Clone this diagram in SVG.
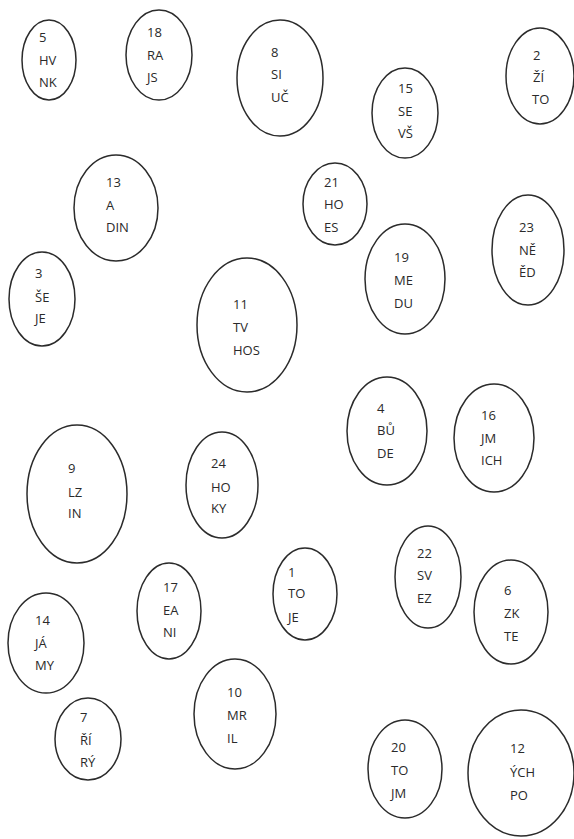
<svg xmlns="http://www.w3.org/2000/svg" width="574" height="839" viewBox="0 0 574 839">
<style>
ellipse{fill:#fff;stroke:#2b2b2b;stroke-width:1.5}
text{font-family:"Open Sans","Liberation Sans",sans-serif;font-size:13px;fill:#2a2a2a}
</style>
<rect width="574" height="839" fill="#fff"/>
<g id="connectors"></g>
<g id="n5"><ellipse cx="49" cy="60" rx="27" ry="40"/><text x="39" y="42">5</text><text x="39" y="65">HV</text><text x="39" y="87">NK</text></g>
<g id="n18"><ellipse cx="159" cy="55" rx="33" ry="45"/><text x="147" y="37">18</text><text x="147" y="60">RA</text><text x="147" y="82">JS</text></g>
<g id="n8"><ellipse cx="280" cy="78" rx="43" ry="58"/><text x="271" y="57">8</text><text x="271" y="79">SI</text><text x="271" y="102">UČ</text></g>
<g id="n15"><ellipse cx="405" cy="113" rx="33" ry="45"/><text x="398" y="93">15</text><text x="398" y="116">SE</text><text x="398" y="138">VŠ</text></g>
<g id="n2"><ellipse cx="540" cy="76" rx="34" ry="48"/><text x="533" y="60">2</text><text x="533" y="82">ŽÍ</text><text x="532" y="104">TO</text></g>
<g id="n13"><ellipse cx="116" cy="208" rx="42" ry="53"/><text x="106" y="187">13</text><text x="106" y="210">A</text><text x="106" y="232">DIN</text></g>
<g id="n21"><ellipse cx="335" cy="204" rx="32" ry="41"/><text x="324" y="187">21</text><text x="324" y="209">HO</text><text x="324" y="232">ES</text></g>
<g id="n23"><ellipse cx="528" cy="250" rx="36" ry="55"/><text x="519" y="232">23</text><text x="519" y="255">NĚ</text><text x="519" y="277">ĚD</text></g>
<g id="n3"><ellipse cx="42" cy="299" rx="33" ry="47"/><text x="35" y="278">3</text><text x="35" y="302">ŠE</text><text x="35" y="323">JE</text></g>
<g id="n19"><ellipse cx="405" cy="279" rx="40" ry="55"/><text x="394" y="262">19</text><text x="394" y="285">ME</text><text x="394" y="308">DU</text></g>
<g id="n11"><ellipse cx="247" cy="325" rx="50" ry="67"/><text x="233" y="309">11</text><text x="233" y="332">TV</text><text x="233" y="355">HOS</text></g>
<g id="n4"><ellipse cx="387" cy="431" rx="40" ry="54"/><text x="377" y="413">4</text><text x="377" y="435">BŮ</text><text x="377" y="458">DE</text></g>
<g id="n16"><ellipse cx="494" cy="438" rx="40" ry="54"/><text x="481" y="420">16</text><text x="481" y="443">JM</text><text x="481" y="465">ICH</text></g>
<g id="n9"><ellipse cx="77" cy="494" rx="50" ry="69"/><text x="68" y="473">9</text><text x="68" y="497">LZ</text><text x="68" y="518">IN</text></g>
<g id="n24"><ellipse cx="222" cy="485" rx="36" ry="53"/><text x="211" y="468">24</text><text x="211" y="492">HO</text><text x="211" y="513">KY</text></g>
<g id="n22"><ellipse cx="428" cy="577" rx="33" ry="51"/><text x="417" y="558">22</text><text x="417" y="580">SV</text><text x="417" y="603">EZ</text></g>
<g id="n1"><ellipse cx="305" cy="594" rx="32" ry="46"/><text x="288" y="577">1</text><text x="288" y="598">TO</text><text x="288" y="622">JE</text></g>
<g id="n17"><ellipse cx="169" cy="611" rx="32" ry="48"/><text x="163" y="592">17</text><text x="163" y="615">EA</text><text x="163" y="637">NI</text></g>
<g id="n6"><ellipse cx="511" cy="612" rx="37" ry="52"/><text x="504" y="595">6</text><text x="504" y="618">ZK</text><text x="504" y="641">TE</text></g>
<g id="n14"><ellipse cx="46" cy="643" rx="38" ry="50"/><text x="35" y="625">14</text><text x="35" y="648">JÁ</text><text x="35" y="670">MY</text></g>
<g id="n10"><ellipse cx="235" cy="714" rx="41" ry="55"/><text x="227" y="697">10</text><text x="227" y="720">MR</text><text x="227" y="743">IL</text></g>
<g id="n7"><ellipse cx="88" cy="739" rx="33" ry="41"/><text x="80" y="722">7</text><text x="80" y="745">ŘÍ</text><text x="80" y="767">RÝ</text></g>
<g id="n20"><ellipse cx="405" cy="769" rx="37" ry="49"/><text x="391" y="752">20</text><text x="391" y="775">TO</text><text x="391" y="798">JM</text></g>
<g id="n12"><ellipse cx="521" cy="773" rx="53" ry="63"/><text x="510" y="753">12</text><text x="510" y="777">ÝCH</text><text x="510" y="800">PO</text></g>
</svg>
